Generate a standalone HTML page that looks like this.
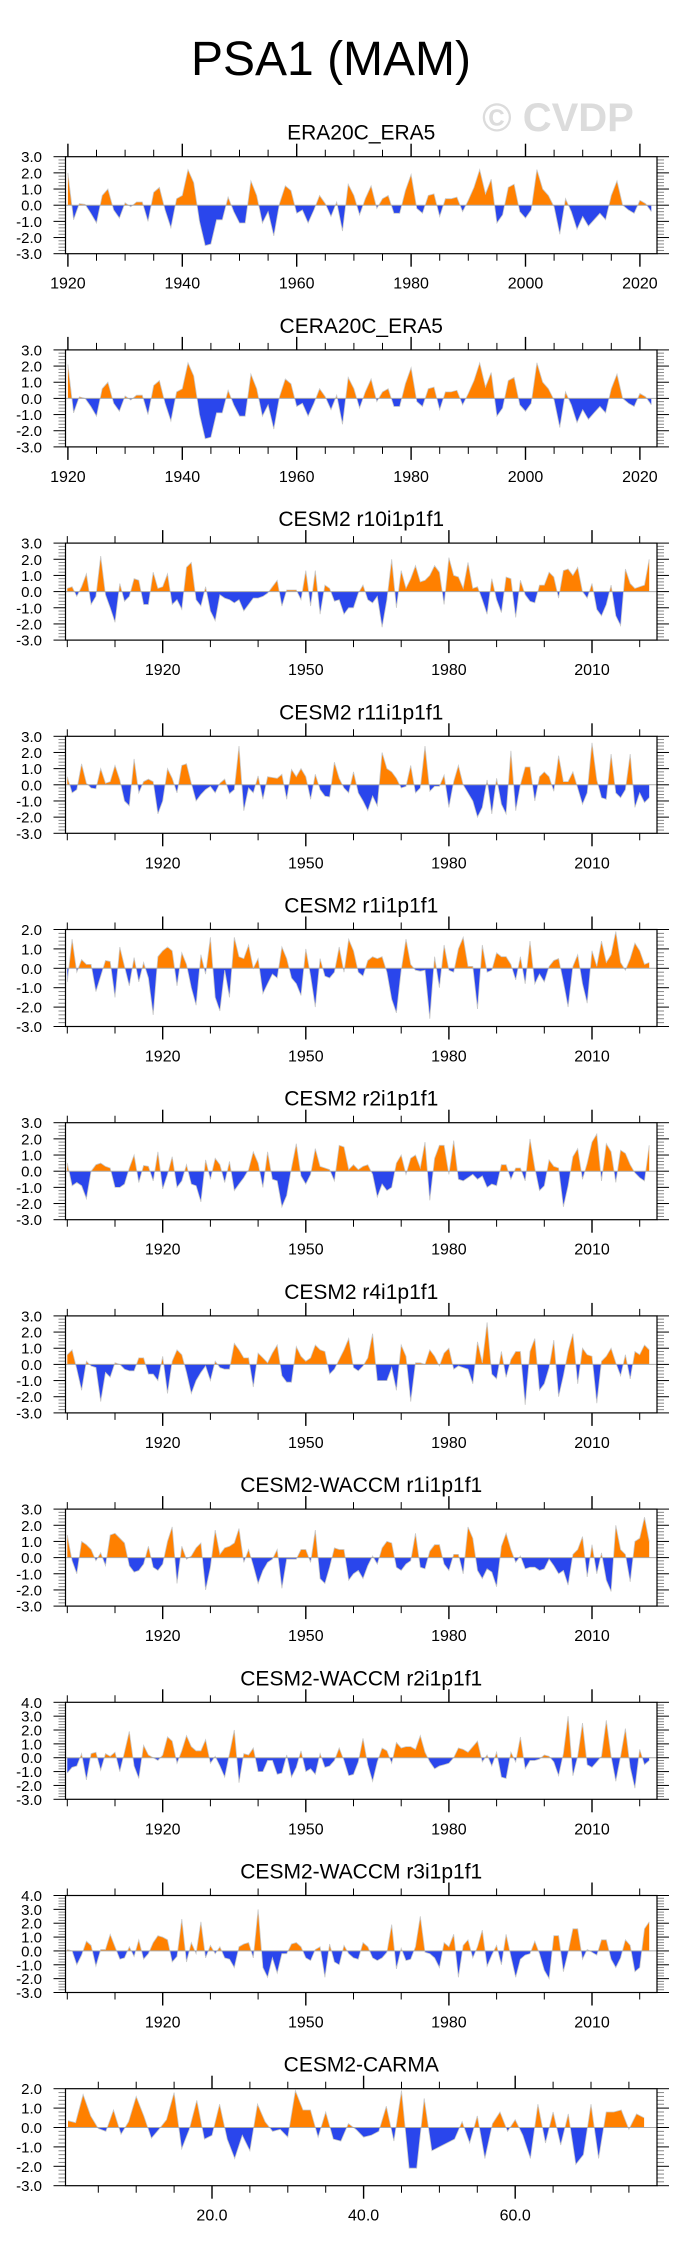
<!DOCTYPE html>
<html><head><meta charset="utf-8">
<style>
html,body{margin:0;padding:0;background:#fff;}
svg{display:block;font-family:"Liberation Sans",Arial,sans-serif;}
</style></head>
<body>
<svg id="chart" xmlns="http://www.w3.org/2000/svg" width="684" height="2251" viewBox="0 0 684 2251">
<text x="331" y="75" font-size="48" text-anchor="middle" fill="#000">PSA1 (MAM)</text>
<text x="558" y="131" font-size="40" font-weight="bold" text-anchor="middle" fill="#dcdcdc">© CVDP</text>
</svg>
<script>
// ---------- data (annual values) ----------
const eraValues = [
 2.0,-0.9,0.1,0.05,-0.5,-1.1,0.6,1.0,-0.3,-0.8,
 0.15,-0.1,0.2,0.2,-1.0,0.8,1.1,-0.3,-1.4,0.4,
 0.6,2.2,1.4,-1.0,-2.5,-2.4,-0.9,-0.9,0.5,-0.4,
 -1.1,-1.1,1.5,0.6,-1.1,-0.4,-1.9,0.1,1.2,0.9,
 -0.5,-0.3,-1.1,-0.3,0.6,0.1,-0.7,0.2,-1.6,1.3,
 0.6,-0.6,0.4,1.2,-0.2,0.4,0.6,-0.5,-0.5,0.9,
 1.9,-0.2,-0.5,0.6,0.7,-0.7,0.4,0.4,0.5,-0.4,
 0.3,1.1,2.2,0.7,1.6,-1.1,-0.6,1.1,1.3,-0.4,
 -0.8,-0.3,2.2,1.0,0.6,-0.1,-1.8,0.4,-0.4,-1.5,
 -0.7,-1.3,-0.9,-0.5,-0.9,0.6,1.5,0.0,-0.3,-0.5,
 0.3,0.1,-0.4];
const ceraValues = [
 2.1,-0.9,0.1,0.0,-0.5,-1.1,0.6,1.0,-0.3,-0.8,
 0.15,-0.1,0.2,0.2,-1.0,0.8,1.1,-0.3,-1.4,0.4,
 0.6,2.2,1.4,-1.0,-2.5,-2.4,-0.9,-0.9,0.5,-0.4,
 -1.1,-1.1,1.5,0.6,-1.1,-0.4,-1.9,0.1,1.2,0.9,
 -0.5,-0.3,-1.1,-0.3,0.6,0.1,-0.7,0.2,-1.6,1.3,
 0.6,-0.6,0.4,1.2,-0.2,0.4,0.6,-0.5,-0.5,0.9,
 1.9,-0.2,-0.5,0.6,0.7,-0.7,0.4,0.4,0.5,-0.4,
 0.3,1.1,2.2,0.7,1.6,-1.1,-0.6,1.1,1.3,-0.4,
 -0.8,-0.3,2.2,1.0,0.6,-0.1,-1.8,0.4,-0.4,-1.5,
 -0.7,-1.3,-0.9,-0.5,-0.9,0.6,1.5,0.0,-0.3,-0.5,
 0.3,0.1,-0.4];
const r10Values = [
 0.2,0.3,-0.3,0.3,1.1,-0.8,-0.3,2.2,-0.2,-1.0,
 -1.9,0.5,-0.6,-0.3,0.8,0.7,-0.8,-0.8,1.2,0.2,
 0.3,1.1,-0.8,-0.5,-1.1,1.5,1.8,-0.5,-0.9,0.3,
 -1.2,-1.8,-0.2,-0.4,-0.5,-0.7,-0.5,-1.2,-0.8,-0.4,
 -0.4,-0.3,-0.1,0.3,0.7,-0.9,0.1,0.1,0.1,-0.5,
 1.3,-0.9,1.3,-1.4,0.4,0.2,-0.6,-0.5,-1.4,-1.0,
 -1.0,-0.1,0.4,-0.5,-0.7,-0.3,-2.2,-0.5,2.0,-1.0,
 1.3,0.2,0.8,1.6,0.6,0.7,1.0,1.6,1.2,-0.8,
 2.1,1.0,0.9,0.2,1.8,0.2,0.3,-0.5,-1.4,0.8,
 -0.5,-1.3,0.9,0.8,-1.6,0.7,-0.2,-0.6,-0.7,0.4,
 0.4,1.2,0.9,-0.4,1.3,1.4,1.0,1.5,0.0,-0.4,
 0.5,-1.1,-1.5,-0.8,0.4,-1.5,-2.1,1.4,0.5,0.2,
 0.3,0.4,2.0];
const r11Values = [
 0.5,-0.5,-0.3,1.3,0.1,-0.2,-0.25,1.0,0.1,0.2,
 1.2,0.3,-1.0,-1.3,1.6,-0.5,0.2,0.35,0.2,-1.8,
 -1.0,1.0,0.4,-0.5,1.2,1.3,0.1,-1.0,-0.6,-0.3,
 -0.1,-0.5,0.1,0.35,-0.55,-0.3,2.4,-1.6,-0.2,-0.5,
 0.55,-0.9,0.5,0.45,0.4,0.65,-0.9,0.95,0.5,1.0,
 0.5,-0.9,0.65,-0.3,-0.7,-0.75,1.4,0.4,-0.2,-0.5,
 0.8,-0.5,-1.0,-1.6,-0.7,-1.3,2.0,1.0,0.8,0.4,
 -0.2,-0.1,1.2,-0.5,-0.2,2.4,-0.4,-0.1,-0.1,0.6,
 -1.4,0.2,1.2,0.0,-0.5,-1.0,-2.0,-1.4,0.3,-1.8,
 0.4,-1.2,-1.8,2.1,-1.6,0.0,1.1,1.1,-1.0,0.5,
 0.8,0.5,-0.4,1.8,0.2,0.2,0.8,-0.2,-1.2,-0.5,
 2.6,0.3,-0.8,-0.9,1.9,-0.5,-0.8,-0.3,1.9,-1.4,
 -0.5,-1.1,-0.8];
const r1Values = [
 -0.7,1.5,-0.2,0.45,0.2,0.2,-1.2,-0.4,0.4,0.35,
 -1.5,1.1,0.1,-0.9,0.55,-0.7,0.3,-0.5,-2.4,0.6,
 0.9,1.1,0.9,-0.9,0.8,0.2,-1.0,-1.9,0.7,-0.3,
 1.6,-1.5,-2.2,-0.1,-1.5,1.6,0.6,0.5,1.2,0.0,
 0.5,-1.3,-0.8,-0.3,-0.5,1.1,0.5,-0.5,-0.8,-1.4,
 1.0,-0.4,-2.0,0.5,-0.4,-0.5,-0.2,1.1,-0.2,1.5,
 0.9,-0.2,-0.4,0.4,0.6,0.5,0.6,-0.2,-1.6,-2.3,
 -0.1,1.5,0.2,-0.1,-0.15,-0.1,-2.6,0.6,-1.0,1.2,
 -0.1,-0.2,1.0,1.6,0.1,0.1,-2.1,1.2,-0.2,-0.1,
 0.8,0.6,0.6,0.2,-0.6,0.6,-0.8,1.4,-0.8,-0.3,
 -0.7,0.1,0.4,0.5,-0.7,-2.0,0.1,0.7,-0.8,-1.8,
 0.9,0.1,1.4,0.3,0.7,1.9,0.3,-0.1,0.5,1.3,
 0.9,0.2,0.3];
const r2Values = [
 0.5,-0.9,-0.7,-0.9,-1.7,0.0,0.4,0.5,0.3,0.2,
 -1.0,-1.0,-0.8,0.2,1.0,-0.7,0.35,0.3,-0.6,1.2,
 -1.1,-0.2,0.9,-1.0,-0.6,0.4,-0.8,-0.9,-1.9,0.7,
 -0.5,0.8,0.4,-0.7,0.6,-1.2,-0.8,-0.4,0.1,1.2,
 0.5,-1.0,1.2,-0.5,-0.6,-2.2,-1.5,0.2,1.7,-0.3,
 -0.8,-0.2,1.4,0.3,0.2,0.1,-0.6,1.6,1.5,0.1,
 0.4,0.1,0.3,0.4,-0.2,-1.6,-0.8,-1.2,-1.0,0.5,
 1.0,-0.2,0.8,1.0,0.2,1.8,-1.8,0.8,1.6,1.6,
 -0.2,1.9,-0.5,-0.6,-0.4,-0.2,-0.5,-0.3,-1.0,-0.8,
 -0.9,0.4,0.4,-0.5,0.2,0.2,-0.6,2.0,0.2,-1.2,
 -0.9,0.7,0.3,0.2,-2.2,-0.9,0.9,1.4,-0.5,0.5,
 1.8,2.3,-0.6,1.7,1.2,-0.7,1.3,1.1,0.4,-0.1,
 -0.4,-0.6,1.6];
const r4Values = [
 0.6,0.9,-0.3,-1.6,0.2,-0.1,-0.2,-2.3,-0.5,-0.8,
 0.1,0.0,-0.3,-0.4,-0.4,0.4,0.4,-0.6,-0.6,-1.0,
 0.5,-1.8,0.2,0.9,0.6,-0.5,-1.8,-1.0,-0.5,-0.1,
 -1.0,0.2,-0.2,-0.3,-0.3,1.3,0.9,0.4,0.4,-1.4,
 0.7,0.4,0.1,0.7,1.2,-0.7,-1.1,-1.1,1.1,0.5,
 0.2,0.4,1.2,0.9,0.8,-0.6,-0.3,0.3,0.9,1.6,
 -0.2,-0.4,-0.1,0.4,1.9,-1.0,-1.0,-1.0,-0.2,-1.6,
 1.2,0.5,-2.3,0.1,0.1,0.0,0.9,0.5,-0.1,0.7,
 1.0,-0.3,-0.1,-0.2,-0.3,-1.2,1.4,0.1,2.6,-0.6,
 -0.9,0.8,-0.8,0.3,0.8,0.8,-2.5,0.8,1.6,-1.6,
 -1.2,-0.2,1.5,-2.0,-0.7,0.8,1.9,-1.2,1.0,0.6,
 0.5,-2.4,0.2,0.5,1.0,0.1,-0.7,0.6,-0.9,0.8,
 0.6,1.2,0.9];
const waccmR1Values = [
 1.4,-0.2,-1.0,1.0,0.8,0.5,-0.2,0.3,-0.5,1.4,
 1.5,1.2,0.9,-0.5,-0.9,-0.8,-0.4,0.7,-0.6,-0.8,
 -0.4,1.0,1.9,-1.6,0.7,-0.1,0.1,0.6,0.9,-2.0,
 -0.6,1.7,0.2,0.6,0.7,0.9,1.8,-0.3,0.5,-0.5,
 -1.6,-0.8,-0.3,-0.1,0.5,-1.9,-0.1,-0.1,-0.1,0.5,
 0.5,-0.3,1.7,-1.3,-1.6,-0.6,0.6,0.5,0.5,-1.4,
 -1.0,-0.8,-1.3,-0.5,0.1,-0.4,0.6,1.0,0.9,-0.6,
 -0.8,-0.4,-0.2,1.5,-0.6,-0.7,0.4,0.8,0.8,-0.4,
 -0.8,0.2,0.2,-1.0,1.9,1.2,-0.8,-1.3,-0.7,-0.9,
 -1.8,0.7,1.5,0.5,-0.3,0.1,-0.7,-0.6,-0.6,-0.8,
 -0.7,-0.1,-0.5,-1.0,-0.8,-1.7,0.2,0.5,1.3,-1.2,
 0.8,-1.0,0.3,-1.4,-2.1,2.0,0.5,0.2,-1.5,1.0,
 1.2,2.5,1.0];
const waccmR2Values = [
 -1.1,-0.7,-0.6,0.3,-1.6,0.3,0.4,-0.9,0.3,0.1,
 0.4,-1.0,0.4,1.9,-0.6,-1.5,0.9,0.2,0.0,-0.2,
 0.2,1.5,1.2,-0.4,0.5,1.6,0.8,0.5,0.5,1.3,
 -0.4,0.1,-0.6,-1.4,0.3,2.0,-1.8,0.3,0.2,0.7,
 -1.0,-1.0,-0.2,-0.2,-1.2,-1.1,0.2,-1.4,-0.7,0.5,
 -1.0,-0.8,-1.2,0.3,-0.7,-0.6,-0.2,0.7,-0.2,-1.3,
 -1.2,-0.3,1.4,-0.5,-1.7,-0.3,0.7,0.5,-0.4,1.1,
 0.7,0.8,0.8,0.6,1.6,0.4,-0.3,-0.8,-0.6,-0.5,
 -0.4,0.0,0.7,0.6,0.4,0.8,1.2,-0.3,0.2,-0.6,
 0.4,-1.4,-1.5,0.4,-0.3,1.5,-0.8,-0.2,-0.2,-0.1,
 0.2,0.1,-0.3,-1.3,0.3,3.0,-1.3,0.1,2.5,-0.5,
 -0.7,-0.3,0.1,2.7,0.1,-1.7,0.1,2.1,-0.7,-2.2,
 0.6,-0.5,-0.2];
const waccmR3Values = [
 0.1,0.0,-1.0,-0.3,0.7,0.4,-1.1,0.1,0.1,1.2,
 0.3,-0.6,-0.5,0.3,-0.4,0.8,-0.6,-0.2,0.6,1.1,
 1.0,0.8,-0.8,-0.4,2.3,-0.8,0.6,-0.2,2.1,-0.5,
 0.4,-0.2,0.3,-0.5,-0.6,-1.2,0.3,0.5,0.6,-0.5,
 3.0,-1.2,-1.9,-0.5,-1.6,-0.2,-0.2,0.5,0.6,0.3,
 -0.5,-0.7,0.1,0.3,-1.9,0.5,-0.8,-1.0,0.4,-0.2,
 -0.5,-0.6,0.6,0.3,-0.5,-0.7,-0.5,-0.1,1.9,-1.3,
 0.2,-0.7,-0.6,0.3,2.5,-0.1,-0.2,-0.5,-1.2,0.6,
 0.3,1.2,-1.9,0.4,0.8,-0.5,0.3,1.5,-1.1,-0.3,
 0.4,-1.0,1.2,-0.4,-1.9,-0.6,-0.3,-0.2,0.7,-0.2,
 -1.4,-2.0,1.1,1.1,-1.5,-0.1,1.6,1.6,-0.6,0.1,
 -0.1,-0.3,0.8,0.8,-0.6,-1.2,-0.5,0.8,0.4,-1.5,
 -1.2,1.6,2.1];
const carmaValues = [
 0.35,0.25,1.7,0.6,-0.05,-0.2,0.9,-0.35,0.3,1.6,
 0.6,-0.55,-0.1,0.4,1.8,-1.1,-0.1,1.4,-0.6,-0.4,
 1.2,-0.6,-1.6,-0.4,-1.2,1.2,0.3,-0.2,-0.1,-0.5,
 1.9,0.9,0.9,-0.5,0.8,-0.6,-0.7,0.2,-0.1,-0.5,
 -0.4,-0.2,1.1,-0.7,1.9,-2.1,-2.1,1.5,-1.2,-1.0,
 -0.8,-0.6,0.3,-0.8,0.6,-1.6,0.2,0.8,-0.2,0.4,
 -0.4,-1.6,1.2,-0.8,0.8,-0.9,0.7,-1.9,-1.4,1.2,
 -1.6,0.8,0.8,0.9,-0.1,0.7,0.5];

// tick label arrays
const eraTickLabels = [1920,1940,1960,1980,2000,2020];
const modelTickLabels = [1920,1950,1980,2010];
const carmaTickLabels = [20,40,60];

const panelTitles = ["ERA20C_ERA5","CERA20C_ERA5","CESM2 r10i1p1f1","CESM2 r11i1p1f1","CESM2 r1i1p1f1","CESM2 r2i1p1f1","CESM2 r4i1p1f1","CESM2-WACCM r1i1p1f1","CESM2-WACCM r2i1p1f1","CESM2-WACCM r3i1p1f1","CESM2-CARMA"];
const panelSeries = [eraValues,ceraValues,r10Values,r11Values,r1Values,r2Values,r4Values,waccmR1Values,waccmR2Values,waccmR3Values,carmaValues];
const panelStart = [1920,1920,1900,1900,1900,1900,1900,1900,1900,1900,1];
const panelYMax = [3,3,3,3,2,3,3,3,4,4,2];
const panelYMin = [-3,-3,-3,-3,-3,-3,-3,-3,-3,-3,-3];

// ---------- drawing ----------
const NS = "http://www.w3.org/2000/svg";
const svg = document.getElementById("chart");
function mk(tag, attrs, parent){
  const e = document.createElementNS(NS, tag);
  for (const k in attrs) e.setAttribute(k, attrs[k]);
  (parent||svg).appendChild(e);
  return e;
}
const BOX_L = 65.5, BOX_R = 657, BOX_H = 97, TOP0 = 156.7, STEP = 193.2;
const ORANGE = "#ff8000", BLUE = "#2a46ec";

function xScaleFor(kind){
  if (kind === "era") return v => 67.9 + (v - 1920) * 5.72;
  if (kind === "carma") return v => 212 + (v - 20) * 7.58;
  return v => 67.3 + (v - 1900) * 4.77;
}

panelSeries.forEach((vals, k) => {
  const kind = k < 2 ? "era" : (k === 10 ? "carma" : "model");
  const xs = xScaleFor(kind);
  const top = TOP0 + STEP * k, bot = top + BOX_H;
  const yMax = panelYMax[k], yMin = panelYMin[k];
  const ys = v => top + (yMax - v) / (yMax - yMin) * BOX_H;
  const g = mk("g", {});
  
  

  const t = mk("text", {x: (BOX_L + BOX_R) / 2, y: top - 17, "font-size": 21, "text-anchor": "middle", fill: "#000"}, g);
  t.textContent = panelTitles[k];
  
  

  const y0 = ys(0);
  const cu = mk("clipPath", {id: "cu" + k}, g);
  mk("rect", {x: 0, y: top, width: 684, height: y0 - top}, cu);
  const cl = mk("clipPath", {id: "cl" + k}, g);
  mk("rect", {x: 0, y: y0, width: 684, height: bot - y0}, cl);

  const pts = vals.map((v, i) => [xs(panelStart[k] + i), ys(v)]);
  let d = "M" + pts[0][0].toFixed(1) + "," + y0.toFixed(1);
  pts.forEach(p => { d += "L" + p[0].toFixed(1) + "," + p[1].toFixed(1); });
  d += "L" + pts[pts.length - 1][0].toFixed(1) + "," + y0.toFixed(1) + "Z";
  const pa = mk("path", {d: d, fill: ORANGE, "clip-path": "url(#cu" + k + ")"}, g);
  
  
  const pb = mk("path", {d: d, fill: BLUE, "clip-path": "url(#cl" + k + ")"}, g);
  
  
  const line = mk("polyline", {points: pts.map(p => p[0].toFixed(1) + "," + p[1].toFixed(1)).join(" "), fill: "none", stroke: "#c8c8c8", "stroke-width": 0.8}, g);
  
  

  const zl = mk("line", {x1: BOX_L, x2: BOX_R, y1: y0, y2: y0, stroke: "#aaa", "stroke-width": 1}, g);
  
  

  for (let j = Math.round(yMin * 5); j <= Math.round(yMax * 5); j++) {
    const v = j / 5, yy = ys(v), major = (j % 5 === 0);
    const len = major ? 12 : 7;
    const col = major ? "#000" : "#888";
    mk("line", {x1: BOX_L - len, x2: BOX_L, y1: yy, y2: yy, stroke: col, "stroke-width": 1}, g);
    mk("line", {x1: BOX_R, x2: BOX_R + len, y1: yy, y2: yy, stroke: col, "stroke-width": 1}, g);
    if (major) {
      const lab = mk("text", {x: 42, y: yy + 5.5, "font-size": 15, "text-anchor": "end", fill: "#000"}, g);
      lab.textContent = v.toFixed(1);
      
      
    }
  }

  let minorStep, first, last, labels;
  if (kind === "era") { minorStep = 5; first = 1920; last = 2022; labels = eraTickLabels; }
  else if (kind === "carma") { minorStep = 5; first = 5; last = 77; labels = carmaTickLabels; }
  else { minorStep = 10; first = 1900; last = 2022; labels = modelTickLabels; }
  for (let v = first; v <= last; v += minorStep) {
    const xx = xs(v);
    if (xx < BOX_L - 0.5 || xx > BOX_R + 0.5) continue;
    const major = labels.indexOf(v) >= 0;
    const len = major ? 13 : 7;
    const sw = major ? 1.4 : 1;
    mk("line", {x1: xx, x2: xx, y1: top - len, y2: top, stroke: "#000", "stroke-width": sw}, g);
    mk("line", {x1: xx, x2: xx, y1: bot, y2: bot + len, stroke: "#000", "stroke-width": sw}, g);
  }
  labels.forEach(v => {
    const lab = mk("text", {x: xs(v), y: bot + 35, "font-size": 16, "text-anchor": "middle", fill: "#000"}, g);
    lab.textContent = kind === "carma" ? v.toFixed(1) : String(v);
    
    
  });

  const box = mk("rect", {x: BOX_L, y: top, width: BOX_R - BOX_L, height: BOX_H, fill: "none", stroke: "#000", "stroke-width": 1.2}, g);
  
  
});
</script>
</body></html>
